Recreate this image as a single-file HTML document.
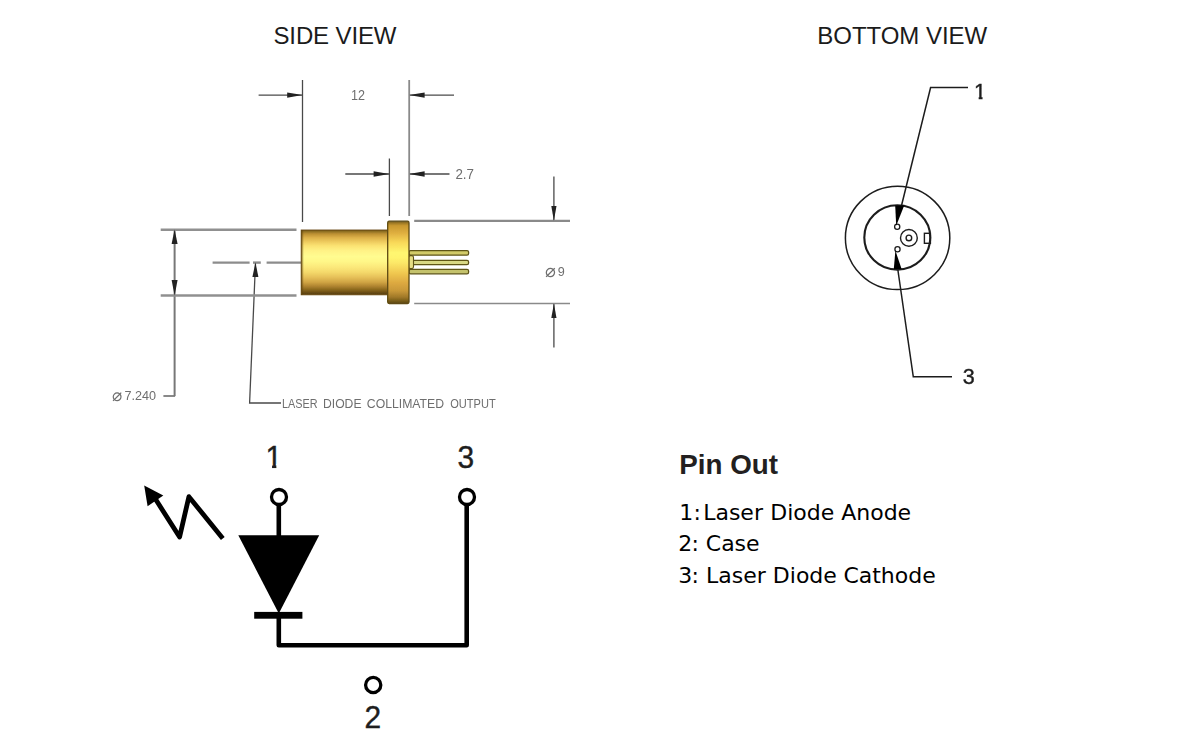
<!DOCTYPE html>
<html lang="en">
<head>
<meta charset="utf-8">
<title>Laser Diode Package Drawing</title>
<style>
html,body{margin:0;padding:0;background:#fff;}
body{width:1186px;height:750px;position:relative;overflow:hidden;font-family:"Liberation Sans",sans-serif;color:#1a1a1a;}
.t{position:absolute;white-space:nowrap;line-height:1;}
.pl{font-family:"DejaVu Sans","Liberation Sans",sans-serif;font-size:22px;color:#000;}
.pl span{position:relative;}
svg{position:absolute;left:0;top:0;}
svg text{font-family:"Liberation Sans",sans-serif;}
#sv{left:273.49px;top:24px;font-size:24px;color:#1b1b1b;letter-spacing:-0.128px;}
#bv{left:817.32px;top:24px;font-size:24px;color:#1b1b1b;letter-spacing:-0.036px;}
#po{left:679.29px;top:451px;font-size:27.8px;font-weight:bold;color:#231f20;}
#l1{left:679.13px;top:502px;}
#l2{left:678.27px;top:533px;}
#l3{left:678.22px;top:565px;}
</style>
</head>
<body>
<div class="t" id="sv">SIDE VIEW</div>
<div class="t" id="bv">BOTTOM VIEW</div>
<div class="t" id="po">Pin Out</div>
<div class="t pl" id="l1"><span>1</span><span style="left:0.47px">:</span><span style="left:2.6px">Laser</span> <span style="left:2.92px">Diode</span> <span style="left:2.84px">Anode</span></div>
<div class="t pl" id="l2"><span>2</span><span style="left:-0.77px">:</span> <span style="left:-0.92px">Case</span></div>
<div class="t pl" id="l3"><span>3</span><span style="left:-0.72px">:</span> <span style="left:-0.59px">Laser</span> <span style="left:-0.57px">Diode</span> <span style="left:-1.07px">Cathode</span></div>
<svg width="1186" height="750" viewBox="0 0 1186 750">
<defs>
<linearGradient id="gb" x1="0" y1="0" x2="0" y2="1">
<stop offset="0.000" stop-color="#6f5518"/>
<stop offset="0.019" stop-color="#8a6c22"/>
<stop offset="0.060" stop-color="#bc9032"/>
<stop offset="0.120" stop-color="#ddb24a"/>
<stop offset="0.182" stop-color="#eecb5e"/>
<stop offset="0.242" stop-color="#fbe272"/>
<stop offset="0.319" stop-color="#fff286"/>
<stop offset="0.410" stop-color="#fffc90"/>
<stop offset="0.486" stop-color="#fff788"/>
<stop offset="0.577" stop-color="#fbe87a"/>
<stop offset="0.654" stop-color="#f4d86a"/>
<stop offset="0.730" stop-color="#e6c058"/>
<stop offset="0.806" stop-color="#d0a444"/>
<stop offset="0.867" stop-color="#b08430"/>
<stop offset="0.927" stop-color="#86641c"/>
<stop offset="0.989" stop-color="#5a4010"/>
<stop offset="1.000" stop-color="#553c0e"/>
</linearGradient>
<linearGradient id="gf" x1="0" y1="0" x2="0" y2="1">
<stop offset="0.000" stop-color="#6a5418"/>
<stop offset="0.020" stop-color="#9a7624"/>
<stop offset="0.054" stop-color="#c8982e"/>
<stop offset="0.147" stop-color="#e0b040"/>
<stop offset="0.256" stop-color="#f8d858"/>
<stop offset="0.380" stop-color="#fff670"/>
<stop offset="0.442" stop-color="#fff46e"/>
<stop offset="0.504" stop-color="#fce868"/>
<stop offset="0.628" stop-color="#f0c850"/>
<stop offset="0.752" stop-color="#dca840"/>
<stop offset="0.845" stop-color="#c89838"/>
<stop offset="0.922" stop-color="#a07828"/>
<stop offset="0.977" stop-color="#6e5616"/>
<stop offset="1.000" stop-color="#5a4410"/>
</linearGradient>
<linearGradient id="gx" x1="0" y1="0" x2="1" y2="0">
<stop offset="0" stop-color="#5c400c" stop-opacity="0.85"/>
<stop offset="0.03" stop-color="#5c400c" stop-opacity="0"/>
<stop offset="1" stop-color="#5c400c" stop-opacity="0"/>
</linearGradient>
<filter id="bl" x="-5%" y="-5%" width="110%" height="110%"><feGaussianBlur stdDeviation="0.55"/></filter>
<filter id="bl4" x="-5%" y="-20%" width="110%" height="140%"><feGaussianBlur stdDeviation="0.45"/></filter>
<filter id="bl3" x="-5%" y="-5%" width="110%" height="110%"><feGaussianBlur stdDeviation="0.4"/></filter>
<filter id="bl2" x="-5%" y="-5%" width="110%" height="110%"><feGaussianBlur stdDeviation="0.45"/></filter>
<clipPath id="c1"><rect x="-2" y="-30" width="32" height="26.4"/><rect x="6.9" y="-4" width="4.5" height="5"/></clipPath>
<clipPath id="c2"><rect x="-2" y="-24" width="26" height="21.4"/><rect x="4.7" y="-3" width="3.8" height="4"/></clipPath>
</defs>

<!-- SIDE VIEW drawing -->
<g id="side" filter="url(#bl)">
<g stroke="#4a4a4a" stroke-width="1.3" fill="none">
<line x1="302.5" y1="80" x2="302.5" y2="222"/>
<line x1="389.4" y1="158.5" x2="389.4" y2="216"/>
<line x1="258.6" y1="95.1" x2="302.5" y2="95.1"/>
<line x1="409.2" y1="95.1" x2="454" y2="95.1"/>
<line x1="345.3" y1="174" x2="389.4" y2="174"/>
<line x1="409.2" y1="174" x2="449.5" y2="174"/>
<line x1="553.9" y1="176.6" x2="553.9" y2="220.8"/>
<line x1="553.9" y1="303.5" x2="553.9" y2="347.4"/>
<line x1="163.4" y1="396" x2="175.1" y2="396"/>
<polyline points="255.5,262.5 249.6,403 281,403"/>
</g>
<g stroke="#8a8a8a" stroke-width="1.8" fill="none">
<line x1="409.2" y1="80" x2="409.2" y2="216"/>
<line x1="414.2" y1="220.9" x2="570" y2="220.9" stroke-width="2.3"/>
<line x1="414.2" y1="303.5" x2="570" y2="303.5" stroke-width="1.3"/>
<line x1="174.6" y1="229.6" x2="174.6" y2="396" stroke="#777" stroke-width="2"/>
<line x1="160.7" y1="229.7" x2="296.5" y2="229.7" stroke="#909090" stroke-width="2.4"/>
<line x1="160.7" y1="295.5" x2="296.5" y2="295.5" stroke="#909090" stroke-width="2.4"/>
<line x1="212.6" y1="262.6" x2="249.6" y2="262.6" stroke="#8c8c8c" stroke-width="2.4"/>
<line x1="253" y1="262.6" x2="260.8" y2="262.6" stroke="#8c8c8c" stroke-width="2.4"/>
<line x1="266.6" y1="262.6" x2="301" y2="262.6" stroke="#8c8c8c" stroke-width="2.4"/>
</g>
<g fill="#222">
<polygon points="302.5,95.1 287.2,92.4 287.2,97.8"/>
<polygon points="409.2,95.1 424.6,92.4 424.6,97.8"/>
<polygon points="389.4,174 373.6,171.3 373.6,176.7"/>
<polygon points="409.2,174 424.6,171.3 424.6,176.7"/>
<polygon points="553.9,220.8 551.3,206 556.5,206"/>
<polygon points="553.9,303.5 551.3,318 556.5,318"/>
<polygon points="174.6,229.6 171.6,244 177.6,244"/>
<polygon points="174.6,295.4 171.6,280 177.6,280"/>
<polygon points="255.5,262.5 252.4,277 258.4,277"/>
</g>
<!-- pins -->
<g stroke="#5e5416" stroke-width="1.25">
<rect x="409" y="250.5" width="59.6" height="4.6" rx="1.6" fill="#d2cb68"/>
<rect x="412" y="260.4" width="56.6" height="4.3" rx="1.6" fill="#d8d884"/>
<rect x="409" y="269.3" width="59.6" height="4.5" rx="1.6" fill="#c4c26c"/>
<rect x="408.5" y="255.6" width="5" height="13" rx="1.8" fill="#e6de84" stroke-width="1.1"/>
</g>
<rect x="301.2" y="230" width="87" height="64.8" fill="url(#gb)" stroke="#6a4a10" stroke-width="0.9"/>
<rect x="301.2" y="230" width="87" height="64.8" fill="url(#gx)"/>
<rect x="387.7" y="221.2" width="21.3" height="82.4" rx="1.5" fill="url(#gf)" stroke="#5e4a12" stroke-width="1.3"/>
<g fill="#6e6e6e" font-size="14" filter="url(#bl4)">
<text x="350.9" y="100.3" font-size="14.6" textLength="14" lengthAdjust="spacingAndGlyphs">12</text>
<text x="455.4" y="179.2" font-size="14.4" textLength="18.6" lengthAdjust="spacingAndGlyphs">2.7</text>
<text x="544.8" y="276"><tspan font-size="18" dy="1">⌀</tspan><tspan x="557.8" dy="-1" font-size="12.6">9</tspan></text>
<text x="112" y="400" font-size="13.4"><tspan font-size="16.5" dy="0.6">⌀</tspan><tspan x="124.4" dy="-0.6" textLength="31.6" lengthAdjust="spacingAndGlyphs">7.240</tspan></text>
<text y="408.3" font-size="13.3"><tspan x="282.1" textLength="35.5" lengthAdjust="spacingAndGlyphs">LASER</tspan> <tspan x="323" textLength="38.5" lengthAdjust="spacingAndGlyphs">DIODE</tspan> <tspan x="366.8" textLength="77.3" lengthAdjust="spacingAndGlyphs">COLLIMATED</tspan> <tspan x="450.2" textLength="45.5" lengthAdjust="spacingAndGlyphs">OUTPUT</tspan></text>
</g>
</g>

<!-- BOTTOM VIEW drawing -->
<g id="bottom" filter="url(#bl2)">
<g fill="none" stroke="#1c1c1c">
<ellipse cx="897.6" cy="237.9" rx="52.2" ry="51.7" stroke-width="1.5"/>
<ellipse cx="897.3" cy="237.4" rx="33" ry="32.2" stroke-width="2.1"/>
<circle cx="908.9" cy="237.9" r="8.4" stroke-width="1.4"/>
<circle cx="908.9" cy="237.9" r="2.8" stroke-width="1.4"/>
<circle cx="897.2" cy="226.7" r="2.6" stroke-width="1.3" fill="#fff"/>
<circle cx="897.5" cy="249.3" r="2.6" stroke-width="1.3" fill="#fff"/>
<rect x="924.4" y="233.3" width="6" height="10" stroke-width="1.4"/>
<polyline points="968,87.6 930.6,87.6 901.4,206" stroke-width="1.5"/>
<polyline points="952,376.8 913.3,376.8 897.6,268" stroke-width="1.5"/>
</g>
<polygon points="896.2,225.8 895.2,205.4 904.2,205.4" fill="#000"/>
<polygon points="895.4,250.6 893.8,269 901.6,269" fill="#000"/>
<g fill="#1c1c1c" stroke="#1c1c1c" stroke-width="0.4" font-size="21.5">
<text transform="translate(974,99)" clip-path="url(#c2)">1</text>
<text x="962.8" y="384">3</text>
</g>
</g>

<!-- Schematic -->
<g id="schem" filter="url(#bl3)">
<g fill="none" stroke="#000" stroke-width="4.6" stroke-linejoin="round">
<polyline points="278.8,505 278.8,536"/>
<polyline points="278.8,617 278.8,645.3 466.7,645.3 466.7,505"/>
</g>
<polygon points="238.3,535.2 319.2,535.2 278.8,613.5" fill="#000"/>
<rect x="254.2" y="611.9" width="48.2" height="6.8" fill="#000"/>
<g fill="#fff" stroke="#000" stroke-width="3.3">
<circle cx="279" cy="497" r="7.5"/>
<circle cx="467" cy="497" r="7.5"/>
<circle cx="373.2" cy="685" r="7.6"/>
</g>
<polyline points="155.6,499.3 179.6,537 188.9,496.7 222.8,538.4" fill="none" stroke="#000" stroke-width="4.8" stroke-linejoin="round"/>
<polygon points="144.2,485.5 163.3,495.4 147.6,506.3" fill="#000"/>
</g>
<g fill="#1e1e1e" stroke="#1e1e1e" stroke-width="0.4" font-size="31.5">
<text transform="translate(265.5,467.6) scale(0.95,1)" clip-path="url(#c1)">1</text>
<text transform="translate(457.4,467.6) scale(0.95,1)">3</text>
<text transform="translate(364.4,727.6) scale(0.95,1)">2</text>
</g>
</svg>

</body>
</html>
